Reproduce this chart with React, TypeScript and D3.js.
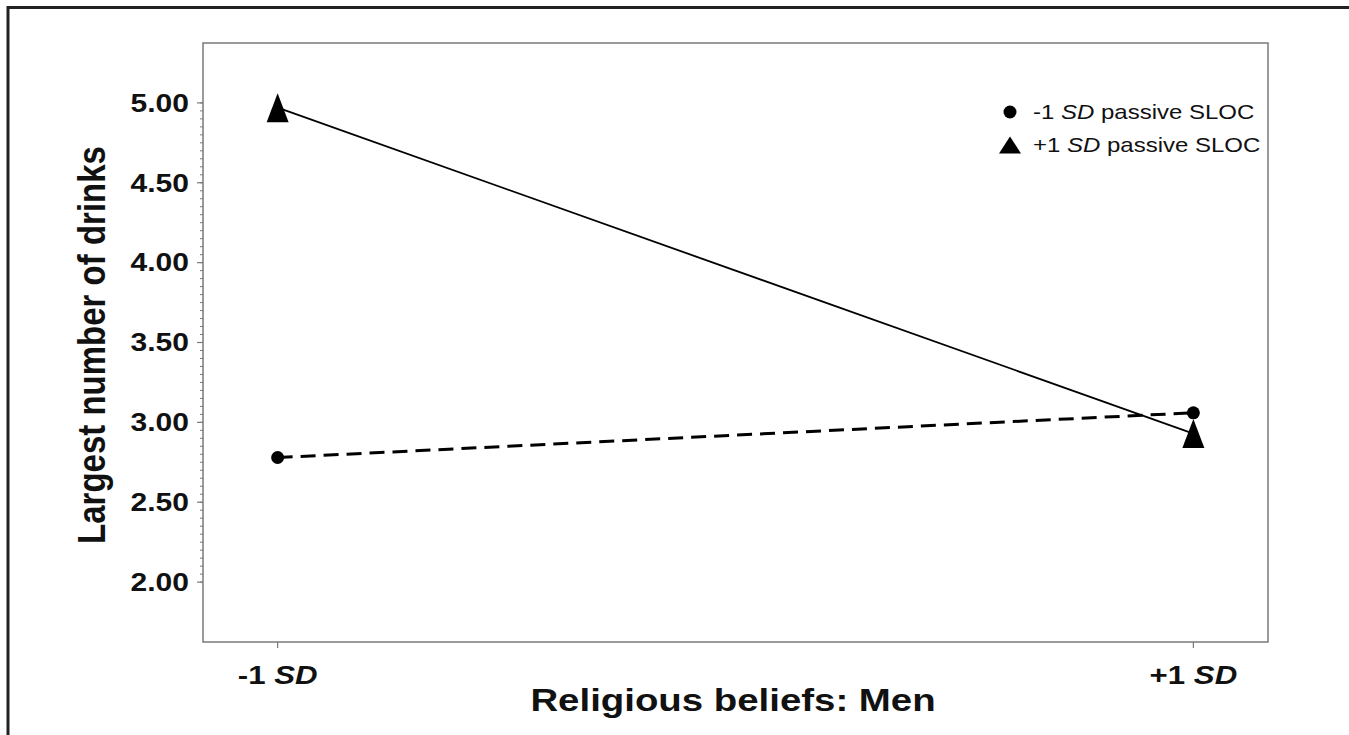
import React from "react";
import * as d3 from "d3";

const categories = ["-1", "+1"];
const seriesNames = ["-1 SD passive SLOC", "+1 SD passive SLOC"];
const lowSLOC = [2.78, 3.06];
const highSLOC = [4.97, 2.93];
const yTicks = [2.0, 2.5, 3.0, 3.5, 4.0, 4.5, 5.0];

const W = 1349;
const H = 735;
const M = { left: 203, right: 1268, top: 43, bottom: 642 };
const FONT = "'Liberation Sans', Arial, Helvetica, sans-serif";
const SX = 1.2;

export default function App() {
  const x = d3.scalePoint<string>().domain(categories).range([M.left, M.right]).padding(0.0815);
  const y = d3.scaleLinear().domain([1.625, 5.375]).range([M.bottom, M.top]);
  const minor = d3.range(200, 501, 5).map((v) => v / 100);
  const line = d3
    .line<number>()
    .x((_, i) => x(categories[i]) as number)
    .y((d) => y(d));
  const tri = (cx: number, cy: number, hw: number, hh: number) =>
    `M${cx},${cy - hh}L${cx + hw},${cy + hh}L${cx - hw},${cy + hh}Z`;
  const axisColor = "#7a7a7a";
  const tr = (tx: number, ty: number, extra = "") => `translate(${tx},${ty}) scale(${SX},1)${extra}`;

  return (
    <svg width={W} height={H} style={{ position: "absolute", left: 0, top: 0, background: "#fff" }} fontFamily={FONT}>
      {/* outer frame (top & left) */}
      <line x1={8} y1={7.5} x2={W} y2={7.5} stroke="#222" strokeWidth={3} />
      <line x1={8} y1={6} x2={8} y2={H} stroke="#222" strokeWidth={3} />

      {/* plot border */}
      <rect x={M.left} y={M.top} width={M.right - M.left} height={M.bottom - M.top} fill="none" stroke={axisColor} strokeWidth={1.5} />

      {/* minor y ticks */}
      {minor.map((v, i) => (
        <line key={"m" + i} x1={M.left - 3} x2={M.left} y1={y(v)} y2={y(v)} stroke={axisColor} strokeWidth={1} />
      ))}
      {/* major y ticks + labels */}
      {yTicks.map((v) => (
        <g key={"t" + v}>
          <line x1={M.left - 6} x2={M.left} y1={y(v)} y2={y(v)} stroke={axisColor} strokeWidth={1.2} />
          <text transform={tr(189, y(v))} dy="0.35em" textAnchor="end" fontSize={25} fontWeight="bold" fill="#111">
            {v.toFixed(2)}
          </text>
        </g>
      ))}

      {/* x ticks + labels */}
      {categories.map((c) => (
        <g key={"x" + c}>
          <line x1={x(c)} x2={x(c)} y1={M.bottom} y2={M.bottom + 6} stroke={axisColor} strokeWidth={1.2} />
          <text transform={tr(x(c) as number, 684)} textAnchor="middle" fontSize={26} fontWeight="bold" fill="#111">
            {c}{" "}
            <tspan fontStyle="italic">SD</tspan>
          </text>
        </g>
      ))}

      {/* axis titles */}
      <text transform={tr(733, 711)} textAnchor="middle" fontSize={32} fontWeight="bold" fill="#111">
        Religious beliefs: Men
      </text>
      <text
        transform={tr(105, 345, " rotate(-90)")}
        textAnchor="middle"
        fontSize={33}
        fontWeight="bold"
        fill="#111"
      >
        Largest number of drinks
      </text>

      {/* lines */}
      <path d={line(lowSLOC) || ""} fill="none" stroke="#000" strokeWidth={3} strokeDasharray="15 8" />
      <path d={line(highSLOC) || ""} fill="none" stroke="#000" strokeWidth={1.8} />

      {/* markers */}
      {lowSLOC.map((v, i) => (
        <circle key={"c" + i} cx={x(categories[i])} cy={y(v)} r={6.5} fill="#000" />
      ))}
      {highSLOC.map((v, i) => (
        <path key={"p" + i} d={tri(x(categories[i]) as number, y(v), 11, 14.5)} fill="#000" />
      ))}

      {/* legend */}
      <circle cx={1010} cy={112} r={6.5} fill="#000" />
      <text transform={tr(1033, 119)} fontSize={20} fill="#111">
        -1 <tspan fontStyle="italic">SD</tspan> passive SLOC
      </text>
      <path d={tri(1010, 145, 11, 8.5)} fill="#000" />
      <text transform={tr(1033, 152)} fontSize={20} fill="#111">
        +1 <tspan fontStyle="italic">SD</tspan> passive SLOC
      </text>
    </svg>
  );
}
